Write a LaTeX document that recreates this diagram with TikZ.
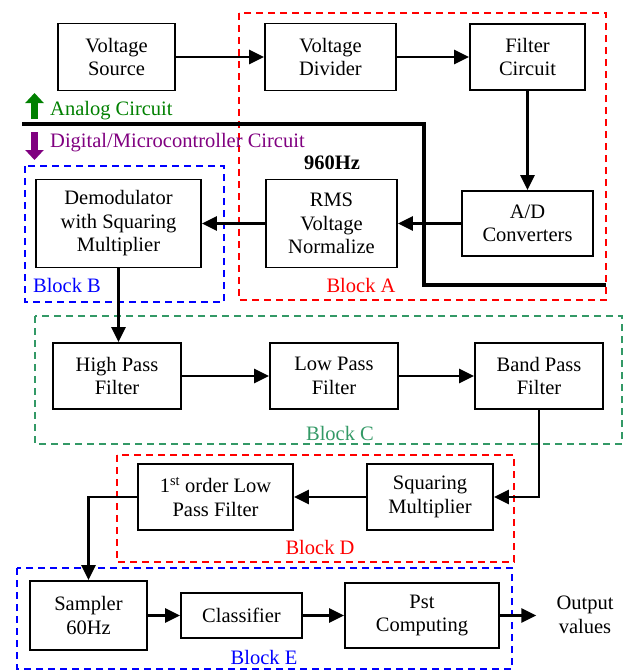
\documentclass[tikz,border=0pt]{standalone}
\usepackage{fontspec}
\setmainfont{Liberation Serif}
\usetikzlibrary{arrows.meta}
\definecolor{blkgreen}{RGB}{51,153,102}
\definecolor{anagreen}{RGB}{0,128,0}
\definecolor{digpurple}{RGB}{128,0,128}
\begin{document}
\begin{tikzpicture}[x=1pt,y=-1pt,every node/.style={font=\fontsize{20.5}{23.5}\selectfont},
  blk/.style={draw,line width=1.8pt,align=center,inner sep=0pt},
  conn/.style={line width=2.4pt,-{Triangle[length=15pt,width=14pt]}},
  grp/.style={line width=1.8pt,dash pattern=on 7pt off 5pt}]
  \useasboundingbox (0,0) rectangle (623,670);
  % dashed blocks
  \draw[grp,red] (239,13) rectangle (606,300);
  \draw[grp,blue] (25,166) rectangle (224,302);
  \draw[grp,blkgreen] (35,316) rectangle (622,444);
  \draw[grp,red] (117,455) rectangle (514,562);
  \draw[grp,blue] (17,568) rectangle (512,669);
  \node[red] (lblA) at (361,285) {Block A};
  \node[blue] (lblB) at (67,285) {Block B};
  \node[blkgreen] (lblC) at (340,433) {Block C};
  \node[red] (lblD) at (320,547) {Block D};
  \node[blue] (lblE) at (264,657) {Block E};
  % analog / digital boundary
  \draw[line width=4pt] (22,124) -- (424,124) -- (424,285) -- (606,285);
  \draw[anagreen,line width=7pt,-{Triangle[length=10pt,width=18pt]}] (34.5,119) -- (34.5,93);
  \draw[digpurple,line width=7pt,-{Triangle[length=10pt,width=18pt]}] (34.5,132) -- (34.5,160);
  \node[anagreen,anchor=west,inner sep=0pt] (ana) at (50,111) {Analog Circuit};
  \node[digpurple,anchor=west,inner sep=0pt] (dig) at (50,143) {Digital/Microcontroller Circuit};
  \node[font=\fontsize{20.5}{23.5}\selectfont\bfseries] (freq) at (332,163) {960Hz};
  % boxes
  \node[blk,minimum width=117pt,minimum height=67pt] (vsrc) at (116.5,57) {Voltage\\Source};
  \node[blk,minimum width=131pt,minimum height=67pt] (vdiv) at (330.5,57) {Voltage\\Divider};
  \node[blk,minimum width=115pt,minimum height=66pt] (filt) at (527.5,57) {Filter\\Circuit};
  \node[blk,minimum width=131pt,minimum height=65pt] (adc) at (527.5,223.5) {A/D\\Converters};
  \node[blk,minimum width=131pt,minimum height=88pt] (rms) at (331.5,223.5) {RMS\\Voltage\\Normalize};
  \node[blk,minimum width=165pt,minimum height=88pt] (demod) at (118.5,223.5) {Demodulator\\with Squaring\\Multiplier};
  \node[blk,minimum width=128pt,minimum height=66pt] (hpf) at (117,376) {High Pass\\Filter};
  \node[blk,minimum width=128pt,minimum height=66pt] (lpf) at (334,376) {Low Pass\\Filter};
  \node[blk,minimum width=128pt,minimum height=66pt] (bpf) at (539,376) {Band Pass\\Filter};
  \node[blk,minimum width=126pt,minimum height=66pt] (sqm) at (430,497) {Squaring\\Multiplier};
  \node[blk,minimum width=155pt,minimum height=66pt] (lpf1) at (215.5,497) {1\textsuperscript{st} order Low\\Pass Filter};
  \node[blk,minimum width=117pt,minimum height=69pt] (samp) at (88.5,615.5) {Sampler\\60Hz};
  \node[blk,minimum width=121pt,minimum height=45pt] (cls) at (241.5,615.5) {Classifier};
  \node[blk,minimum width=154pt,minimum height=65pt] (pst) at (422,615.5) {Pst\\Computing};
  \node[align=center,inner sep=0pt] (out) at (585,615) {Output\\values};
  % connectors
  \draw[conn] (vsrc) -- (vdiv);
  \draw[conn] (vdiv) -- (filt);
  \draw[conn] (filt) -- (adc);
  \draw[conn] (adc) -- (rms);
  \draw[conn] (rms) -- (demod);
  \draw[conn] (demod.south) -- (demod.south |- hpf.north);
  \draw[conn] (hpf) -- (lpf);
  \draw[conn] (lpf) -- (bpf);
  \draw[conn] (bpf.south) |- (sqm.east);
  \draw[conn] (sqm) -- (lpf1);
  \draw[conn] (lpf1.west) -| (samp.north);
  \draw[conn] (samp) -- (cls);
  \draw[conn] (cls) -- (pst);
  \draw[conn,shorten >=20pt] (pst.east) -- (out.west |- pst.east);
\end{tikzpicture}
\end{document}
